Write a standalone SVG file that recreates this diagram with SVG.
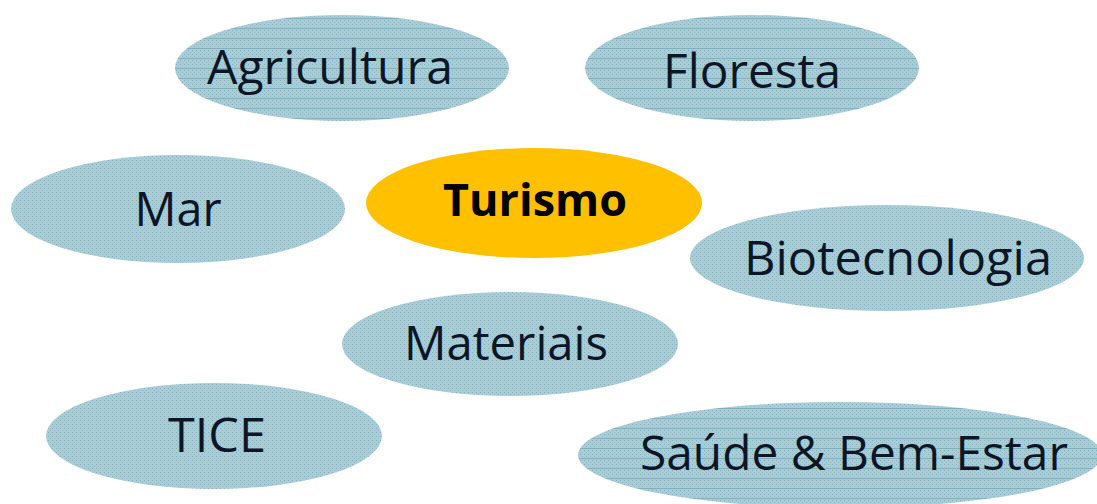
<svg xmlns="http://www.w3.org/2000/svg" width="1097" height="504" viewBox="0 0 1097 504">
<defs>
<pattern id="dots" width="4" height="4" patternUnits="userSpaceOnUse">
<rect width="4" height="4" fill="#a9cdd6"/>
<rect x="0" y="0" width="1" height="1" fill="#7fb1be"/>
<rect x="2" y="2" width="1" height="1" fill="#8dbcc8"/>
</pattern>
<pattern id="lines" width="4" height="10" patternUnits="userSpaceOnUse">
<rect width="4" height="10" fill="#a9cdd6"/>
<rect x="0" y="0" width="1" height="1" fill="#7fb1be"/>
<rect x="2" y="2" width="1" height="1" fill="#8dbcc8"/>
<rect x="0" y="4" width="1" height="1" fill="#7fb1be"/>
<rect x="2" y="6" width="1" height="1" fill="#8dbcc8"/>
<rect x="0" y="8" width="4" height="1" fill="#7eb0bd"/>
</pattern>
</defs>
<style>
.n{fill:url(#dots);}
.l{fill:url(#lines);}
.t{font-family:"Open Sans","Noto Sans",sans-serif;font-size:47px;fill:#0c1626;text-anchor:middle;}
.b{font-family:"Open Sans","Noto Sans",sans-serif;font-size:44px;font-weight:bold;fill:#000;text-anchor:middle;}
</style>
<rect width="1097" height="504" fill="#ffffff"/>
<g id="connectors"></g>
<g id="agricultura"><ellipse class="l" cx="342" cy="68" rx="167" ry="53"/><text class="t" x="330" y="84" textLength="246" lengthAdjust="spacingAndGlyphs">Agricultura</text></g>
<g id="floresta"><ellipse class="l" cx="752" cy="68" rx="167" ry="53"/><text class="t" x="752" y="88" textLength="178" lengthAdjust="spacingAndGlyphs">Floresta</text></g>
<g id="mar"><ellipse class="n" cx="178" cy="209" rx="167" ry="54"/><text class="t" x="178" y="226" textLength="87" lengthAdjust="spacingAndGlyphs">Mar</text></g>
<g id="turismo"><ellipse cx="534" cy="203" rx="168" ry="55" fill="#ffc000"/><text class="b" x="535" y="216" textLength="184" lengthAdjust="spacingAndGlyphs">Turismo</text></g>
<g id="biotecnologia"><ellipse class="n" cx="887" cy="258" rx="197" ry="53"/><text class="t" x="898" y="275" textLength="308" lengthAdjust="spacingAndGlyphs">Biotecnologia</text></g>
<g id="materiais"><ellipse class="n" cx="510" cy="344" rx="168" ry="52"/><text class="t" x="506" y="360" textLength="204" lengthAdjust="spacingAndGlyphs">Materiais</text></g>
<g id="tice"><ellipse class="n" cx="214" cy="436" rx="168" ry="53"/><text class="t" x="217" y="452" textLength="98" lengthAdjust="spacingAndGlyphs">TICE</text></g>
<g id="saude"><ellipse class="l" cx="840" cy="455" rx="262" ry="53"/><text class="t" x="854" y="470" textLength="428" lengthAdjust="spacingAndGlyphs">Saúde &amp; Bem-Estar</text></g>
</svg>
